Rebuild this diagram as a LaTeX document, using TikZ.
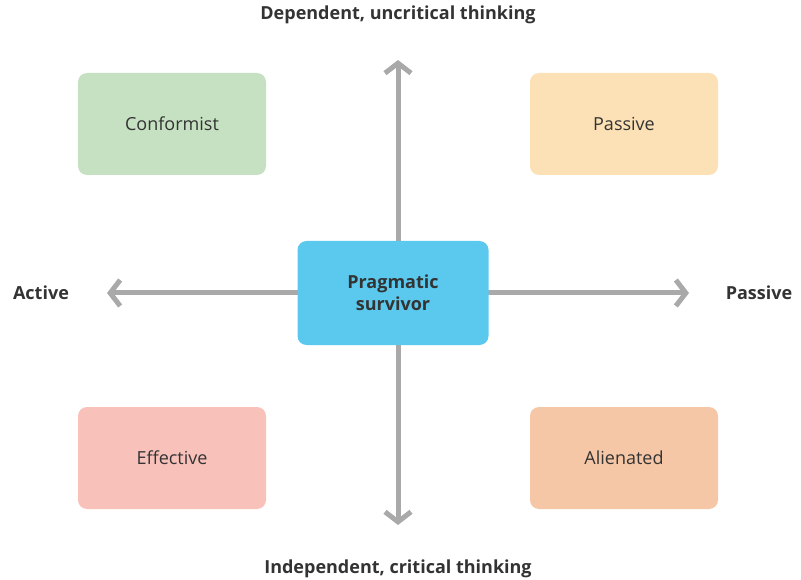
\documentclass[tikz,border=0pt]{standalone}
\usepackage{fontspec}
\setmainfont{Open Sans}
\usetikzlibrary{arrows.meta}

\definecolor{conformgreen}{HTML}{C5E1C1}
\definecolor{passivepeach}{HTML}{FDE1B6}
\definecolor{effectpink}{HTML}{F8C2BB}
\definecolor{alientan}{HTML}{F5C7A6}
\definecolor{survivorblue}{HTML}{5BC9EE}
\definecolor{axisgray}{HTML}{A9A9A9}
\definecolor{textdark}{HTML}{333333}

\begin{document}
\begin{tikzpicture}[x=1pt,y=-1pt,
  quadrant/.style={rounded corners=9pt,minimum width=188pt,minimum height=102pt,
    text=textdark,font=\fontsize{18}{21}\selectfont},
  axislabel/.style={text=textdark,font=\fontsize{18}{21}\selectfont\bfseries},
  axis/.style={line width=5pt,axisgray,{Straight Barb[length=10pt,width=26pt]}-{Straight Barb[length=10pt,width=26pt]}}]
\useasboundingbox (0,0) rectangle (801,580);

% Axis end points
\coordinate (top) at (398,60);
\coordinate (bottom) at (398,525);
\coordinate (left) at (107,293);
\coordinate (right) at (689,293);

% Draw the two axes
\draw[axis] (top) -- (bottom);
\draw[axis] (left) -- (right);

% Quadrant boxes
\node[quadrant,fill=conformgreen] (conformist) at (172,124) {Conformist};
\node[quadrant,fill=passivepeach] (passive) at (624,124) {Passive};
\node[quadrant,fill=effectpink] (effective) at (172,458) {Effective};
\node[quadrant,fill=alientan] (alienated) at (624,458) {Alienated};

% Centre box
\node[quadrant,fill=survivorblue,minimum width=191pt,minimum height=104pt,
  align=center,font=\fontsize{18}{22}\selectfont\bfseries] (survivor) at (393,293) {Pragmatic\\survivor};

% Axis labels
\node[axislabel] (dependent) at (398,15) {Dependent, uncritical thinking};
\node[axislabel] (independent) at (398,569) {Independent, critical thinking};
\node[axislabel] (active) at (41,293) {Active};
\node[axislabel] (passivelabel) at (759,293) {Passive};

\end{tikzpicture}
\end{document}
